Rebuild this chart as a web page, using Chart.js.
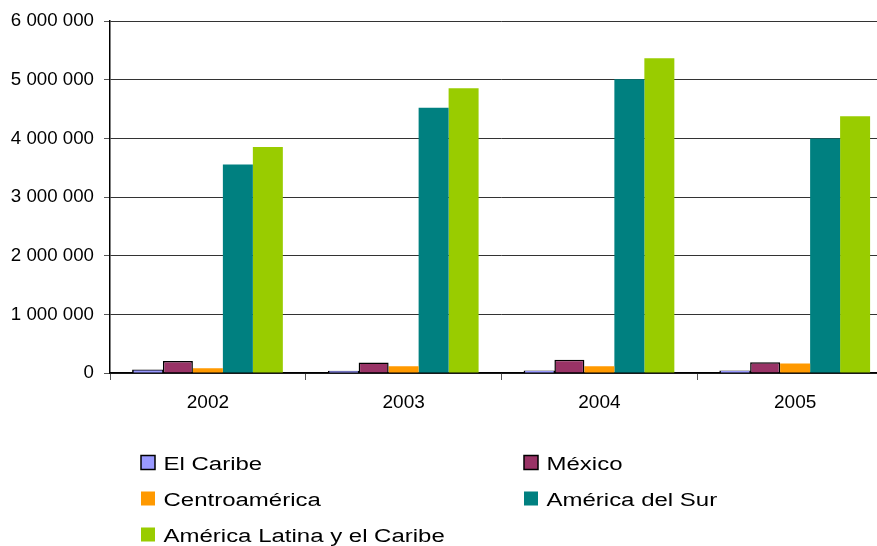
<!DOCTYPE html>
<html>
<head>
<meta charset="utf-8">
<script src="https://cdn.jsdelivr.net/npm/chart.js@4/dist/chart.umd.min.js"></script>
<style>
  html, body { margin: 0; padding: 0; background: #fff; overflow: hidden; }
  #wrap { position: relative; width: 900px; height: 546px; }
</style>
</head>
<body>
<div id="wrap"><canvas id="myChart" width="900" height="546"></canvas></div>
<script>
let years = ["2002", "2003", "2004", "2005"];

let caribe = [46000, 24000, 29000, 29000];
let mexico = [204000, 177000, 228000, 182000];
let centroamerica = [80000, 114000, 114000, 160000];
let americaSur = [3556000, 4526000, 5009000, 4000000];
let americaLatina = [3855000, 4855000, 5370000, 4378000];

let seriesNames = [
  "El Caribe",
  "México",
  "Centroamérica",
  "América del Sur",
  "América Latina y el Caribe",
];

// space as thousands separator: 6 000 000
function spaced(v) {
  return String(v).replace(/\B(?=(\d{3})+(?!\d))/g, " ");
}

// two-column legend under the plot, text slightly widened
let gridLegend = {
  id: "gridLegend",
  afterDraw(chart) {
    let ctx = chart.ctx;
    let cols = [141, 524];
    let rows = [469.5, 505.5, 541.5];
    chart.data.datasets.forEach((ds, i) => {
      let x = cols[i % 2];
      let y = rows[Math.floor(i / 2)];
      ctx.save();
      ctx.fillStyle = ds.backgroundColor;
      ctx.fillRect(x, y - 14, 14, 14);
      if (ds.borderWidth) {
        ctx.strokeStyle = "#000";
        ctx.lineWidth = 1.5;
        ctx.strokeRect(x, y - 14, 14, 14);
      }
      ctx.translate(x + 22.5, y);
      ctx.scale(1.25, 1);
      ctx.font = '19.2px "Liberation Sans", Arial, sans-serif';
      ctx.fillStyle = "#000";
      ctx.textBaseline = "alphabetic";
      ctx.textAlign = "left";
      ctx.fillText(ds.label, 0, 0);
      ctx.restore();
    });
  },
};

let ctx = document.getElementById("myChart").getContext("2d");
let myChart = new Chart(ctx, {
  type: "bar",
  data: {
    labels: years,
    datasets: [
      {
        label: seriesNames[0],
        backgroundColor: "#9999FF",
        borderColor: "#000",
        borderWidth: 1.5,
        inflateAmount: 0.8,
        data: caribe,
      },
      {
        label: seriesNames[1],
        backgroundColor: "#993366",
        borderColor: "#000",
        borderWidth: 1.5,
        data: mexico,
      },
      {
        label: seriesNames[2],
        backgroundColor: "#FF9900",
        borderWidth: 0,
        data: centroamerica,
      },
      {
        label: seriesNames[3],
        backgroundColor: "#008080",
        borderWidth: 0,
        data: americaSur,
      },
      {
        label: seriesNames[4],
        backgroundColor: "#99CC00",
        borderWidth: 0,
        data: americaLatina,
      },
    ],
  },
  options: {
    responsive: false,
    animation: false,
    layout: { padding: { top: 21, right: 7, left: 0, bottom: 0 } },
    datasets: {
      bar: { categoryPercentage: 0.766, barPercentage: 1.0 },
    },
    plugins: {
      legend: { display: false },
      tooltip: { enabled: false },
    },
    scales: {
      x: {
        grid: {
          drawOnChartArea: false,
          tickLength: 7,
          color: "#555",
          tickColor: "#555",
        },
        border: { color: "#000", width: 1.5 },
        ticks: {
          color: "#000",
          padding: 11,
          font: { family: '"Liberation Sans", Arial, sans-serif', size: 19 },
        },
        afterFit(scale) {
          scale.height = 173;
        },
      },
      y: {
        min: 0,
        max: 6000000,
        grid: {
          color: "#333",
          lineWidth: 1,
          tickLength: 6,
          tickColor: "#555",
        },
        border: { color: "#000", width: 1.5 },
        ticks: {
          stepSize: 1000000,
          color: "#000",
          padding: 10,
          font: { family: '"Liberation Sans", Arial, sans-serif', size: 18.7 },
          callback: (v) => spaced(v),
        },
        afterFit(scale) {
          scale.width = 110;
        },
      },
    },
  },
  plugins: [gridLegend],
});
</script>
</body>
</html>
